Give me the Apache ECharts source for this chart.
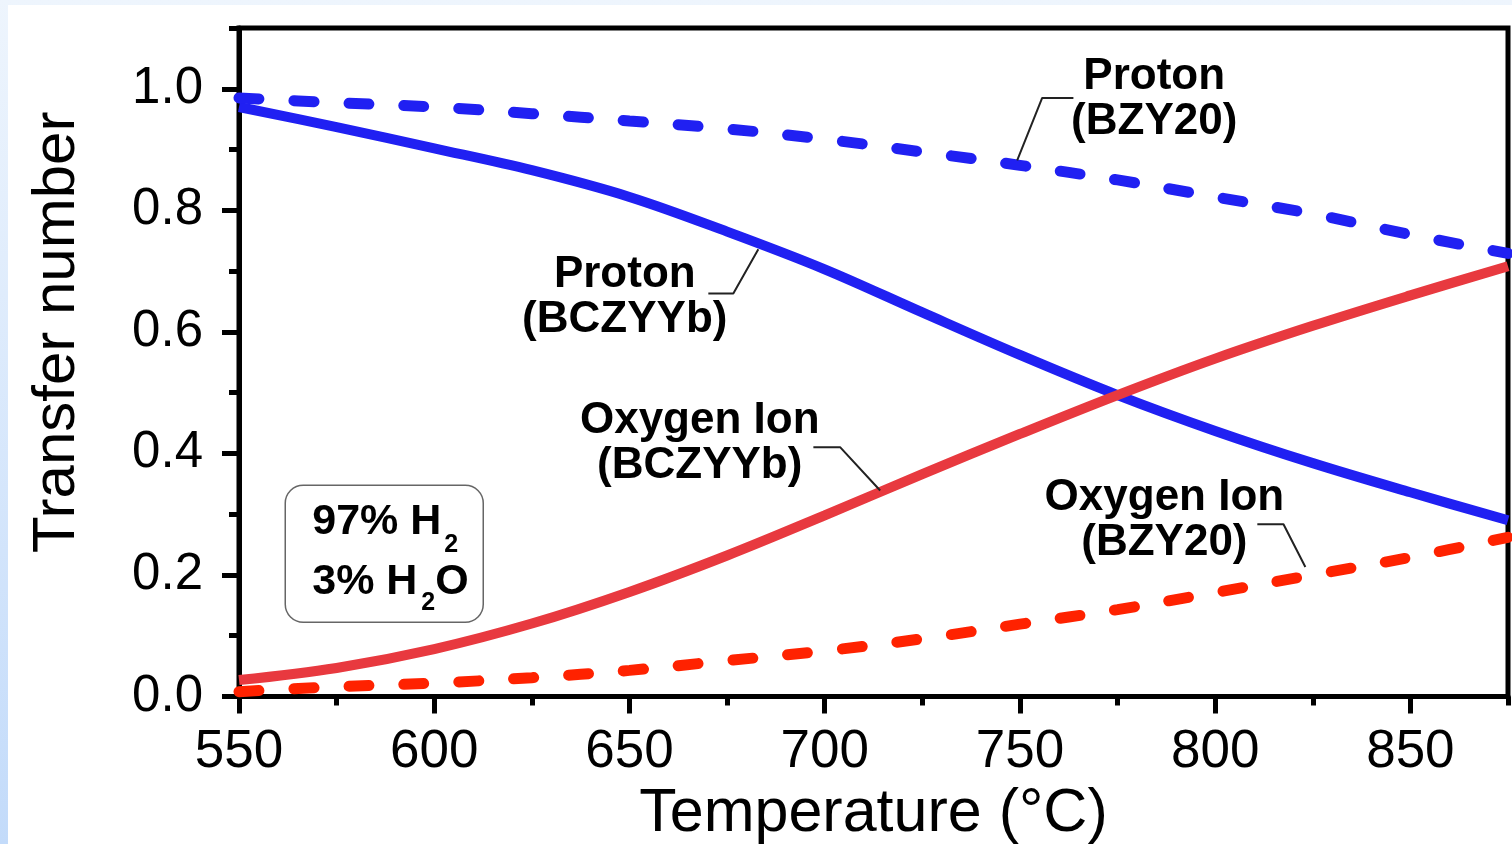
<!DOCTYPE html>
<html><head><meta charset="utf-8">
<script src="https://cdn.jsdelivr.net/npm/echarts@6/dist/echarts.min.js"></script>
<style>
html,body{margin:0;padding:0;width:1512px;height:844px;overflow:hidden;background:linear-gradient(to bottom,#eef5fd,#c3dbfa);}
#chart{position:absolute;left:8px;top:5px;width:1504px;height:839px;background:#fff;}
</style></head><body><div id="chart"></div>
<script>
// ---- data ----
const temperature   = [550, 575, 600, 625, 650, 675, 700, 725, 750, 775, 800, 825, 850, 875];
const protonBCZYYb  = [0.970, 0.937, 0.902, 0.866, 0.822, 0.765, 0.703, 0.632, 0.562, 0.496, 0.437, 0.384, 0.336, 0.290];
const oxygenBCZYYb  = [0.027, 0.047, 0.078, 0.120, 0.172, 0.232, 0.298, 0.366, 0.432, 0.496, 0.556, 0.610, 0.660, 0.708];
const protonBZY20   = [0.985, 0.977, 0.970, 0.959, 0.947, 0.934, 0.917, 0.896, 0.874, 0.850, 0.822, 0.794, 0.760, 0.729];
const oxygenBZY20   = [0.008, 0.016, 0.022, 0.031, 0.043, 0.059, 0.075, 0.095, 0.119, 0.143, 0.171, 0.200, 0.229, 0.262];

const xTicks      = [550, 600, 650, 700, 750, 800, 850];
const xMinorTicks = [575, 625, 675, 725, 775, 825, 875];
const yTicks      = [0, 0.2, 0.4, 0.6, 0.8, 1.0];
const yMinorTicks = [0.1, 0.3, 0.5, 0.7, 0.9, 1.1];

const xTitle = 'Temperature (°C)';
const yTitle = 'Transfer number';

const annotationTexts = ['Proton\n(BZY20)', 'Proton\n(BCZYYb)', 'Oxygen Ion\n(BCZYYb)', 'Oxygen Ion\n(BZY20)'];
const annotationAt    = [[784.4, 0.983], [648.8, 0.657], [668.0, 0.416], [787.0, 0.290]];
const leader1 = [[763.7, 0.985], [755.7, 0.985], [749.3, 0.882]];
const leader2 = [[670.2, 0.663], [676.6, 0.663], [683.0, 0.736]];
const leader3 = [[697.1, 0.410], [704.0, 0.410], [714.2, 0.339]];
const leader4 = [[810.8, 0.2835], [817.5, 0.2835], [823.1, 0.213]];
const boxAt = [587.2, 0.235];

// ---- chart ----
const FONT = 'Liberation Sans, Arial, sans-serif';
const pairs = arr => temperature.map((t, i) => [t, arr[i]]);
const BLUE = '#2020f2', RED = '#e8393f', RED_D = '#ff2200';

const chart = echarts.init(document.getElementById('chart'), null, {renderer: 'canvas'});

const leaderSeries = [leader1, leader2, leader3, leader4].map(d => ({
  type: 'line', data: d, symbol: 'none', silent: true, z: 5,
  lineStyle: {color: '#222', width: 2}
}));

const option = {
  animation: false,
  grid: {left: 231, right: 4, top: 23, bottom: 147.5, show: true, borderColor: '#000', borderWidth: 5,
         backgroundColor: 'transparent', containLabel: false, outerBoundsMode: 'none'},
  xAxis: [
    {
      type: 'value', min: 550, max: 875, interval: 50, position: 'bottom',
      name: xTitle, nameLocation: 'middle', nameGap: 80,
      nameTextStyle: {fontFamily: FONT, fontSize: 61, color: '#000'},
      axisLine: {show: true, lineStyle: {color: '#000', width: 5}},
      axisTick: {show: true, inside: false, length: 17, lineStyle: {color: '#000', width: 5}, customValues: xTicks},
      axisLabel: {show: true, margin: 29, fontFamily: FONT, fontSize: 53, color: '#000', customValues: xTicks},
      splitLine: {show: false}
    },
    {
      type: 'value', min: 550, max: 875, position: 'bottom',
      axisLine: {show: false},
      axisTick: {show: true, inside: false, length: 9, lineStyle: {color: '#000', width: 5}, customValues: xMinorTicks},
      axisLabel: {show: false},
      splitLine: {show: false}
    }
  ],
  yAxis: [
    {
      type: 'value', min: 0, max: 1.1, interval: 0.2, position: 'left',
      name: yTitle, nameLocation: 'middle', nameGap: 152,
      nameTextStyle: {fontFamily: FONT, fontSize: 60, color: '#000', padding: [0, 0, 0, 60]},
      axisLine: {show: true, lineStyle: {color: '#000', width: 5}},
      axisTick: {show: true, inside: false, length: 17, lineStyle: {color: '#000', width: 5}, customValues: yTicks},
      axisLabel: {show: true, margin: 36, fontFamily: FONT, fontSize: 51, color: '#000', customValues: yTicks, formatter: v => v.toFixed(1)},
      splitLine: {show: false}
    },
    {
      type: 'value', min: 0, max: 1.1, position: 'left',
      axisLine: {show: false},
      axisTick: {show: true, inside: false, length: 10, lineStyle: {color: '#000', width: 5}, customValues: yMinorTicks},
      axisLabel: {show: false},
      splitLine: {show: false}
    }
  ],
  series: [
    {name: 'Proton (BCZYYb)', type: 'line', data: pairs(protonBCZYYb), smooth: 0.35, symbol: 'none', z: 2,
     lineStyle: {color: BLUE, width: 10}},
    {name: 'Oxygen Ion (BCZYYb)', type: 'line', data: pairs(oxygenBCZYYb), smooth: 0.35, symbol: 'none', z: 2,
     lineStyle: {color: RED, width: 10}},
    {name: 'Proton (BZY20)', type: 'line', data: pairs(protonBZY20), smooth: 0.35, symbol: 'none', z: 3,
     lineStyle: {color: BLUE, width: 11, type: [20, 35], cap: 'round'}},
    {name: 'Oxygen Ion (BZY20)', type: 'line', data: pairs(oxygenBZY20), smooth: 0.35, symbol: 'none', z: 3,
     lineStyle: {color: RED_D, width: 11, type: [20, 35], cap: 'round'}},
    ...leaderSeries
  ]
};
chart.setOption(option);

// annotations and conditions box, anchored in data coordinates
const tStyle = (txt, size, align) => ({text: txt, fontFamily: FONT, fontSize: size, fontWeight: 'bold', fill: '#000',
  align: align || 'left', verticalAlign: 'middle', lineHeight: 45});
const labels = annotationAt.map((p, i) => {
  const q = chart.convertToPixel({gridIndex: 0}, p);
  return {type: 'text', x: q[0], y: q[1], z: 10, style: tStyle(annotationTexts[i], 44, 'center')};
});
const c = chart.convertToPixel({gridIndex: 0}, boxAt);
chart.setOption({
  graphic: [...labels, {
    type: 'group', x: c[0], y: c[1], z: 10,
    children: [
      {type: 'rect', shape: {x: -99, y: -68.5, width: 198, height: 137, r: 18}, style: {fill: '#fff', stroke: '#666', lineWidth: 1.5}},
      {type: 'text', x: -72, y: -32, style: tStyle('97% H', 43)},
      {type: 'text', x: 60, y: -8.5, style: tStyle('2', 25)},
      {type: 'text', x: -72, y: 28.5, style: tStyle('3% H', 43)},
      {type: 'text', x: 37, y: 49, style: tStyle('2', 25)},
      {type: 'text', x: 51, y: 28.5, style: tStyle('O', 43)}
    ]
  }]
});
</script></body></html>
